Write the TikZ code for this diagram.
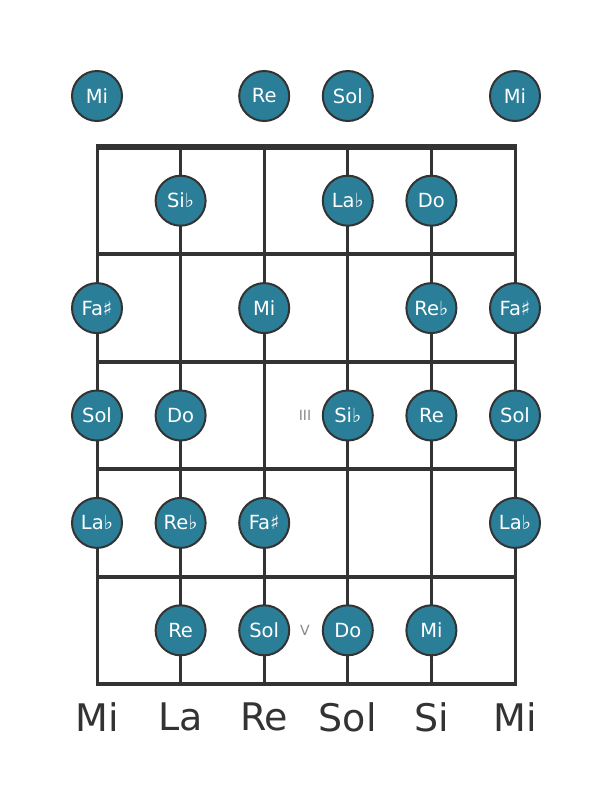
\documentclass[tikz,border=0pt]{standalone}
\usepackage{fontspec}
\setmainfont{DejaVu Sans}
\usetikzlibrary{positioning}
\definecolor{notefill}{HTML}{2A7E98}
\definecolor{boardline}{HTML}{333333}
\definecolor{markgray}{HTML}{888888}

\begin{document}
\begin{tikzpicture}[x=1pt,y=-1pt]
\tikzset{string/.style = {draw=boardline, line width=3pt}}
\tikzset{fretline/.style = {draw=boardline, line width=4pt, shorten <=-1.5pt, shorten >=-1.5pt}}
\tikzset{nutline/.style = {draw=boardline, line width=6pt, shorten <=-1.5pt, shorten >=-1.5pt}}
\tikzset{note/.style = {circle, draw=boardline, line width=2pt, fill=notefill, minimum size=50pt, inner sep=0pt, text=white, font=\fontsize{19.5}{19.5}\selectfont}}
\tikzset{fretmark/.style = {text=markgray, font=\fontsize{14}{14}\selectfont}}
\tikzset{stringname/.style = {text=boardline, font=\fontsize{38}{38}\selectfont}}
\fill[white] (0,0) rectangle (611,801);
\useasboundingbox (0,0) rectangle (611,801);
% strings
\foreach \s in {1,...,6}{
    \coordinate (top\s) at ({97+83.6*(\s-1)},147);
    \coordinate (bot\s) at ({97+83.6*(\s-1)},684);
    \draw[string] (top\s) -- (bot\s);
    }
% frets
\foreach \f in {1,...,5}{
    \coordinate (fl\f) at (97,{147+107.4*\f});
    \coordinate (fr\f) at (515,{147+107.4*\f});
    \draw[fretline] (fl\f) -- (fr\f);
    }
\draw[nutline] (top1) -- (top6);
% fret markers
\node[fretmark] (mark3) at (305,415) {III};
\node[fretmark] (mark5) at (305,630) {V};
% open strings
\foreach \s/\t in {1/Mi,3/Re,4/Sol,6/Mi}
    \node[note] (n0-\s) at ({97+83.6*(\s-1)},96) {\t};
% fretted notes
\foreach \f/\s/\t in {1/2/Si♭,1/4/La♭,1/5/Do,
                      2/1/Fa♯,2/3/Mi,2/5/Re♭,2/6/Fa♯,
                      3/1/Sol,3/2/Do,3/4/Si♭,3/5/Re,3/6/Sol,
                      4/1/La♭,4/2/Re♭,4/3/Fa♯,4/6/La♭,
                      5/2/Re,5/3/Sol,5/4/Do,5/5/Mi}
    \node[note] (n\f-\s) at ({97+83.6*(\s-1)},{147+107.4*(\f-0.5)}) {\t};
% string names
\foreach \s/\t in {1/Mi,2/La,3/Re,4/Sol,5/Si,6/Mi}
    \node[stringname] (name\s) at ({97+83.6*(\s-1)},717) {\t};
\end{tikzpicture}
\end{document}
